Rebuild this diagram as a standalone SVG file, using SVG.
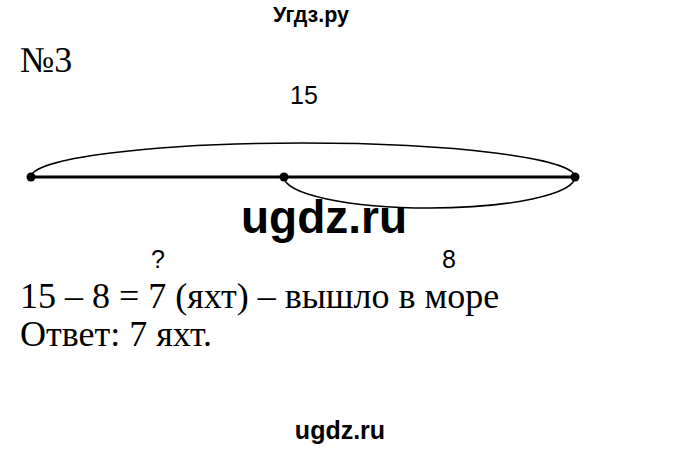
<svg xmlns="http://www.w3.org/2000/svg" width="680" height="450" viewBox="0 0 680 450">
<style>
.arc{fill:none;stroke:#000;stroke-width:1.5}
.seg{stroke:#000;stroke-width:3}
.lbl{font-family:"Liberation Sans",Arial,sans-serif;font-size:25px;fill:#000}
.serif{font-family:"Liberation Serif","Times New Roman",serif;font-size:36px;fill:#000}
.wm{font-family:"Liberation Sans",Arial,sans-serif;font-weight:bold;fill:#000}
</style>
<rect width="680" height="450" fill="#fff"/>
<text class="wm" x="311" y="22" font-size="21.5" text-anchor="middle">Угдз.ру</text>
<text class="serif" x="20" y="72" font-size="34">№3</text>
<g id="connectors">
<line class="seg" x1="31" y1="177" x2="575" y2="177"/>
<path class="arc" d="M31,177 A272,34 0 0 1 575,177"/>
<path class="arc" d="M284,177 A145.5,31 0 0 0 575,177"/>
</g>
<g id="nodeA"><circle cx="31" cy="177" r="4.5" fill="#000"/></g>
<g id="nodeB"><circle cx="284" cy="177" r="4.5" fill="#000"/></g>
<g id="nodeC"><circle cx="575" cy="177" r="4.5" fill="#000"/></g>
<text class="lbl" x="304" y="104" text-anchor="middle">15</text>
<text class="wm" x="324" y="233" font-size="46" text-anchor="middle">ugdz.ru</text>
<text class="lbl" x="158" y="268" text-anchor="middle" fill="#1a1a4a">?</text>
<text class="lbl" x="449" y="268" text-anchor="middle">8</text>
<text class="serif" x="20" y="308">15 – 8 = 7 (яхт) – вышло в море</text>
<text class="serif" x="20" y="346">Ответ: 7 яхт.</text>
<text class="wm" x="340" y="439" font-size="25" text-anchor="middle">ugdz.ru</text>
</svg>
